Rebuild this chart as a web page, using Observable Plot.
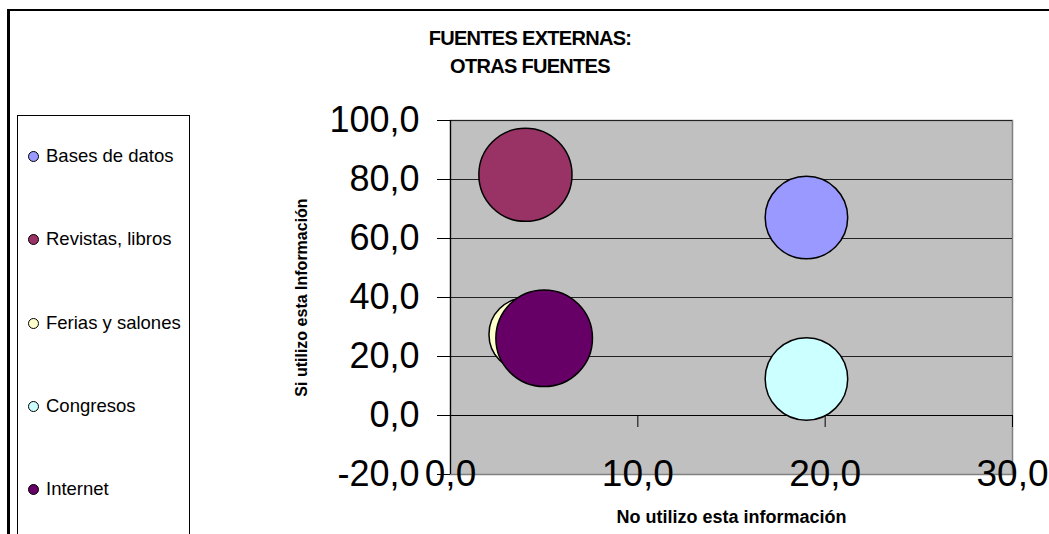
<!DOCTYPE html>
<html>
<head>
<meta charset="utf-8">
<script src="https://cdn.jsdelivr.net/npm/d3@7"></script>
<script src="https://cdn.jsdelivr.net/npm/@observablehq/plot@0.6"></script>
<style>
  html, body { margin: 0; padding: 0; background: #fff; }
  #wrap { position: relative; width: 1049px; height: 534px; overflow: hidden; font-family: "Liberation Sans", Arial, sans-serif; }
  #wrap svg { position: absolute; left: 0; top: 0; }
  .frame { position: absolute; left: 7px; top: 9px; width: 1100px; height: 600px; border-top: 2px solid #000; border-left: 3px solid #000; pointer-events: none; }
  .title { position: absolute; left: 330px; top: 24px; width: 400px; text-align: center; font-weight: bold; font-size: 20px; line-height: 28px; letter-spacing: -0.7px; color: #000; }
  .legend { position: absolute; left: 17px; top: 115px; width: 171px; height: 440px; border: 1px solid #000; background: #fff; }
  .item { position: absolute; left: 0; height: 20px; display: flex; align-items: center; font-size: 18.5px; color: #000; white-space: nowrap; }
  .sw { width: 11px; height: 11px; border-radius: 50%; border: 1px solid #000; margin-left: 10px; margin-right: 7px; box-sizing: border-box; }
</style>
</head>
<body>
<div id="wrap"></div>
<script>
// ---- data ----
const series = ["Bases de datos", "Revistas, libros", "Ferias y salones", "Congresos", "Internet"];
const noUtilizo = [19.0, 4.0, 4.0, 19.0, 5.0];      // x values
const siUtilizo = [67.1, 81.6, 27.5, 12.4, 26.2];   // y values
const bubbleSize = [73, 93, 57, 73, 100];            // relative bubble sizes
const colors = ["#9999FF", "#993366", "#FFFFCC", "#CCFFFF", "#660066"];
const xTicks = [0, 10, 20, 30];
const yTicks = [-20, 0, 20, 40, 60, 80, 100];
const yGrid = [20, 40, 60, 80, 100];
const titleLines = ["FUENTES EXTERNAS:", "OTRAS FUENTES"];
const xLabel = "No utilizo esta información";
const yLabel = "Si utilizo esta Información";

const data = series.map((s, i) => ({ name: s, x: noUtilizo[i], y: siUtilizo[i], size: bubbleSize[i], color: colors[i] }));
const fmt = d => d.toFixed(1).replace(".", ",");
const font = "Liberation Sans, Arial, sans-serif";

const chart = Plot.plot({
  width: 1049,
  height: 534,
  marginLeft: 450,
  marginRight: 37,
  marginTop: 120,
  marginBottom: 60,
  style: { fontFamily: font, background: "transparent", overflow: "visible" },
  x: { domain: [0, 30], axis: null },
  y: { domain: [-20, 100], axis: null },
  r: { type: "sqrt", domain: [0, 100], range: [0, 48.3] },
  color: { type: "identity" },
  marks: [
    Plot.frame({ fill: "#C0C0C0", stroke: "#808080", strokeWidth: 1.5 }),
    Plot.ruleY(yGrid, { stroke: "#222", strokeWidth: 1 }),
    Plot.ruleY([0], { stroke: "#000", strokeWidth: 1.2 }),
    Plot.ruleX([0], { stroke: "#000", strokeWidth: 1.2 }),
    Plot.ruleX(xTicks.slice(1), { x: d => d, y1: 0, y2: 0, insetBottom: -12, stroke: "#000", strokeWidth: 1 }),
    Plot.axisY(yTicks, { anchor: "left", tickSize: 13, tickPadding: 18, tickFormat: fmt, fontSize: 36, stroke: "#000", fill: "#000", label: null }),
    Plot.dot(data, { x: "x", y: "y", r: "size", fill: "color", stroke: "#000", strokeWidth: 1.5, sort: null }),
    Plot.text(xTicks, { x: d => d, frameAnchor: "bottom", text: fmt, fontSize: 37, fill: "#000", textAnchor: "middle", lineAnchor: "middle" }),
    Plot.text([xLabel], { frameAnchor: "bottom", dy: 43, text: d => d, fontSize: 18, fontWeight: "bold", fill: "#000", textAnchor: "middle", lineAnchor: "middle", letterSpacing: "1.1px" }),
    Plot.text([yLabel], { frameAnchor: "left", dx: -149, rotate: -90, text: d => d, fontSize: 16, fontWeight: "bold", fill: "#000", textAnchor: "middle", lineAnchor: "middle", letterSpacing: "1.3px" })
  ]
});

const wrap = document.getElementById("wrap");
wrap.appendChild(chart);

const title = document.createElement("div");
title.className = "title";
title.innerHTML = titleLines.join("<br>");
wrap.appendChild(title);

const legend = document.createElement("div");
legend.className = "legend";
const legendY = [40, 123, 207, 290, 373];
series.forEach((s, i) => {
  const it = document.createElement("div");
  it.className = "item";
  it.style.top = (legendY[i] - 10) + "px";
  const sw = document.createElement("span");
  sw.className = "sw";
  sw.style.background = colors[i];
  const tx = document.createElement("span");
  tx.textContent = s;
  it.appendChild(sw);
  it.appendChild(tx);
  legend.appendChild(it);
});
wrap.appendChild(legend);

const frame = document.createElement("div");
frame.className = "frame";
wrap.appendChild(frame);
</script>
</body>
</html>
